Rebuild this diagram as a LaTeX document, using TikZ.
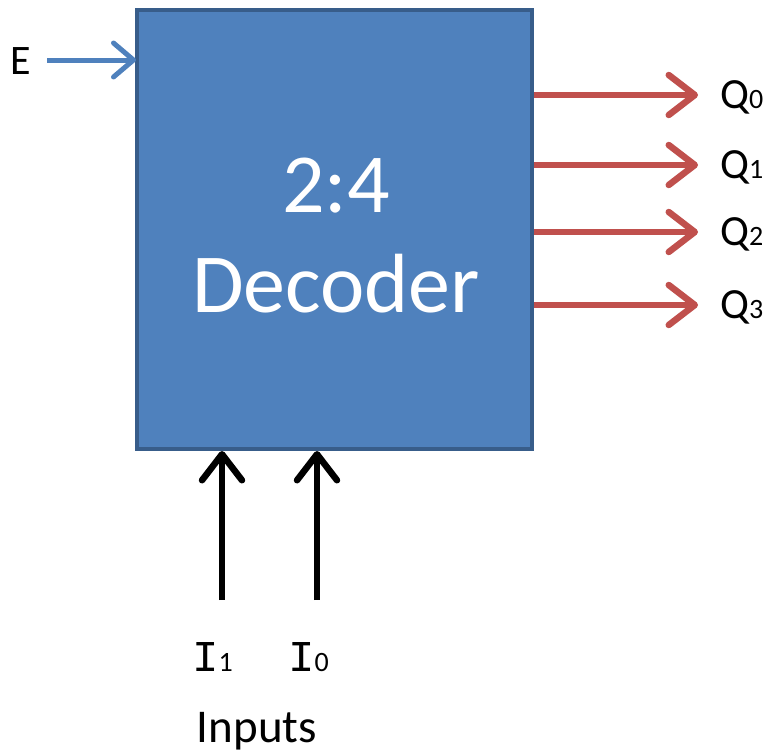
\documentclass[tikz,border=0pt]{standalone}
\usepackage{fontspec}
\setmainfont{Carlito}
\newfontfamily\monofont{Liberation Mono}
\usetikzlibrary{arrows.meta}
\definecolor{boxfill}{HTML}{4F81BD}
\definecolor{boxline}{HTML}{385D8A}
\definecolor{outred}{HTML}{C0504D}
\tikzset{
  block/.style={draw=boxline, line width=3.5pt, fill=boxfill},
  wire/.style={line width=6.5pt, -{Straight Barb[length=26pt, width=40pt, round]}},
  enwire/.style={line width=5pt, draw=boxfill, -{Straight Barb[length=20pt, width=34pt, round]}},
  outwire/.style={wire, draw=outred},
  inwire/.style={wire, draw=black},
  qlabel/.style={anchor=base west, inner sep=0pt, font=\fontsize{43}{45}\selectfont},
}
\newcommand{\subdigit}[1]{{\fontsize{28}{29}\selectfont #1}}
\begin{document}
\begin{tikzpicture}[x=1pt, y=-1pt]
  \useasboundingbox (0,0) rectangle (768,753);
  % decoder block
  \draw[block] (137,10) rectangle (532,449);
  \node[text=white, font=\fontsize{84}{84}\selectfont, inner sep=0pt] (title1) at (336,186) {2:4};
  \node[text=white, font=\fontsize{84}{84}\selectfont, inner sep=0pt] (title2) at (336,284) {Decoder};
  % enable input
  \node[anchor=base west, inner sep=0pt, font=\fontsize{42}{44}\selectfont] (E) at (10,74) {E};
  \coordinate (Estart) at (47,60);
  \coordinate (Eend) at (136,60);
  \draw[enwire] (Estart) -- (Eend);
  % outputs
  \foreach \i/\y in {0/95, 1/165, 2/232, 3/305} {
    \coordinate (q\i s) at (534,\y);
    \coordinate (q\i e) at (698,\y);
    \draw[outwire] (q\i s) -- (q\i e);
    \node[qlabel] (Q\i) at (720,\y+13) {Q\subdigit{\i}};
  }
  % data inputs
  \coordinate (i1s) at (222,600);
  \coordinate (i1e) at (222,451);
  \coordinate (i0s) at (317,600);
  \coordinate (i0e) at (317,451);
  \draw[inwire] (i1s) -- (i1e);
  \draw[inwire] (i0s) -- (i0e);
  \node[anchor=base west, inner sep=0pt] (I1) at (192,671) {{\monofont\fontsize{44}{46}\selectfont I}\subdigit{1}};
  \node[anchor=base west, inner sep=0pt] (I0) at (288,671) {{\monofont\fontsize{44}{46}\selectfont I}\subdigit{0}};
  \node[anchor=base, inner sep=0pt, font=\fontsize{47}{49}\selectfont] (inputs) at (257,742) {Inputs};
\end{tikzpicture}
\end{document}
